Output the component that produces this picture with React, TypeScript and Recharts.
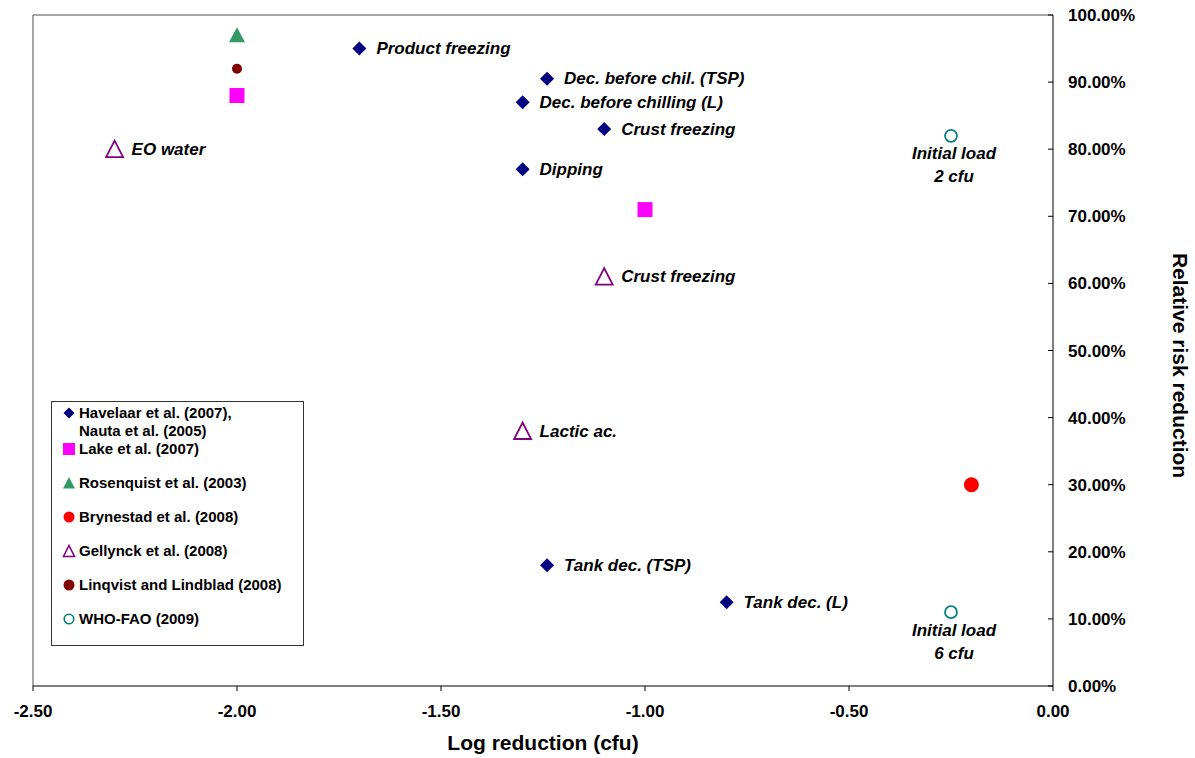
import React from "react";
import {
  ScatterChart,
  Scatter,
  XAxis,
  YAxis,
  ReferenceLine,
  Label,
} from "recharts";

// values
const havelaar = [
  { x: -1.7, y: 0.95, label: "Product freezing" },
  { x: -1.24, y: 0.905, label: "Dec. before chil. (TSP)" },
  { x: -1.3, y: 0.87, label: "Dec. before chilling (L)" },
  { x: -1.1, y: 0.83, label: "Crust freezing" },
  { x: -1.3, y: 0.77, label: "Dipping" },
  { x: -1.24, y: 0.18, label: "Tank dec. (TSP)" },
  { x: -0.8, y: 0.125, label: "Tank dec. (L)" },
];
const lake = [
  { x: -2.0, y: 0.88 },
  { x: -1.0, y: 0.71 },
];
const rosenquist = [{ x: -2.0, y: 0.97 }];
const brynestad = [{ x: -0.2, y: 0.3 }];
const gellynck = [
  { x: -2.3, y: 0.8, label: "EO water" },
  { x: -1.1, y: 0.61, label: "Crust freezing" },
  { x: -1.3, y: 0.38, label: "Lactic ac." },
];
const linqvist = [{ x: -2.0, y: 0.92 }];
const whoFao = [
  { x: -0.25, y: 0.82, label: "Initial load", sub: "2 cfu" },
  { x: -0.25, y: 0.11, label: "Initial load", sub: "6 cfu" },
];

const xTicks = [-2.5, -2.0, -1.5, -1.0, -0.5, 0];
const yTicks = [0, 0.1, 0.2, 0.3, 0.4, 0.5, 0.6, 0.7, 0.8, 0.9, 1.0];

const legendItems = [
  { name: ["Havelaar et al. (2007),", "Nauta et al. (2005)"], kind: "diamond" },
  { name: ["Lake et al. (2007)"], kind: "square" },
  { name: ["Rosenquist et al. (2003)"], kind: "triangle" },
  { name: ["Brynestad et al. (2008)"], kind: "redDot" },
  { name: ["Gellynck et al. (2008)"], kind: "openTriangle" },
  { name: ["Linqvist and Lindblad (2008)"], kind: "brownDot" },
  { name: ["WHO-FAO (2009)"], kind: "openCircle" },
];

const FONT = '"Liberation Sans", Arial, sans-serif';
const NAVY = "#000080";
const MAGENTA = "#FF00FF";
const GREEN = "#339966";
const RED = "#FF0000";
const PURPLE = "#800080";
const BROWN = "#800000";
const TEAL = "#008080";

const labelStyle = {
  fontFamily: FONT,
  fontSize: 17,
  fontWeight: "bold" as const,
  fontStyle: "italic" as const,
  fill: "#000",
};

function sideLabel(cx: number, cy: number, text?: string) {
  if (!text) return null;
  return (
    <text x={cx + 17} y={cy} dominantBaseline="central" style={labelStyle}>
      {text}
    </text>
  );
}

function Diamond(p: any) {
  const { cx, cy, payload } = p;
  const s = 7;
  return (
    <g>
      <path d={`M${cx},${cy - s}L${cx + s},${cy}L${cx},${cy + s}L${cx - s},${cy}Z`} fill={NAVY} />
      {sideLabel(cx, cy, payload?.label)}
    </g>
  );
}

function Square(p: any) {
  const { cx, cy } = p;
  return <rect x={cx - 7.5} y={cy - 7.5} width={15} height={15} fill={MAGENTA} />;
}

function FilledTriangle(p: any) {
  const { cx, cy } = p;
  return <path d={`M${cx},${cy - 8}L${cx + 8},${cy + 7}L${cx - 8},${cy + 7}Z`} fill={GREEN} />;
}

function RedDot(p: any) {
  return <circle cx={p.cx} cy={p.cy} r={7.5} fill={RED} />;
}

function BrownDot(p: any) {
  return <circle cx={p.cx} cy={p.cy} r={5} fill={BROWN} />;
}

function OpenTriangle(p: any) {
  const { cx, cy, payload } = p;
  return (
    <g>
      <path
        d={`M${cx},${cy - 8.5}L${cx + 8.5},${cy + 8}L${cx - 8.5},${cy + 8}Z`}
        fill="#fff"
        stroke={PURPLE}
        strokeWidth={1.8}
      />
      {sideLabel(cx, cy, payload?.label)}
    </g>
  );
}

function OpenCircle(p: any) {
  const { cx, cy, payload } = p;
  return (
    <g>
      <circle cx={cx} cy={cy} r={6} fill="#fff" stroke={TEAL} strokeWidth={1.8} />
      <text x={cx + 3} y={cy + 18} textAnchor="middle" dominantBaseline="central" style={labelStyle}>
        {payload?.label}
      </text>
      <text x={cx + 3} y={cy + 41} textAnchor="middle" dominantBaseline="central" style={labelStyle}>
        {payload?.sub}
      </text>
    </g>
  );
}

function LegendMarker({ kind }: { kind: string }) {
  const c = 7;
  const m = 10;
  let el: React.ReactNode = null;
  if (kind === "diamond")
    el = <path d={`M${c},${m - 5.5}L${c + 5.5},${m}L${c},${m + 5.5}L${c - 5.5},${m}Z`} fill={NAVY} />;
  if (kind === "square") el = <rect x={c - 6} y={m - 6} width={12} height={12} fill={MAGENTA} />;
  if (kind === "triangle")
    el = <path d={`M${c},${m - 6}L${c + 6},${m + 5.5}L${c - 6},${m + 5.5}Z`} fill={GREEN} />;
  if (kind === "redDot") el = <circle cx={c} cy={m} r={5.5} fill={RED} />;
  if (kind === "openTriangle")
    el = (
      <path
        d={`M${c},${m - 5.5}L${c + 5.5},${m + 5.5}L${c - 5.5},${m + 5.5}Z`}
        fill="none"
        stroke={PURPLE}
        strokeWidth={1.6}
      />
    );
  if (kind === "brownDot") el = <circle cx={c} cy={m} r={5.5} fill={BROWN} />;
  if (kind === "openCircle")
    el = <circle cx={c} cy={m} r={4.8} fill="none" stroke={TEAL} strokeWidth={1.6} />;
  return (
    <svg width={14} height={20} style={{ flex: "none", display: "block" }}>
      {el}
    </svg>
  );
}

function YTitle(props: any) {
  const { x, y, height } = props.viewBox;
  const cx = x + 127;
  const cy = y + height / 2 + 15;
  return (
    <text
      x={cx}
      y={cy}
      transform={`rotate(90, ${cx}, ${cy})`}
      textAnchor="middle"
      dominantBaseline="central"
      style={{ fontFamily: FONT, fontSize: 21, fontWeight: "bold", fill: "#000" }}
    >
      Relative risk reduction
    </text>
  );
}

export default function App() {
  const tickStyle = { fontFamily: FONT, fontSize: 17, fontWeight: "bold", fill: "#000" };
  return (
    <div style={{ position: "absolute", left: 0, top: 0, width: 1195, height: 758, background: "#fff" }}>
      <ScatterChart width={1195} height={758} margin={{ top: 15, left: 33, right: 42, bottom: 32 }}>
        <XAxis
          type="number"
          dataKey="x"
          domain={[-2.5, 0]}
          ticks={xTicks}
          tickFormatter={(v: number) => v.toFixed(2)}
          height={40}
          tickSize={5}
          tickMargin={14}
          stroke="#000"
          tick={tickStyle}
          allowDataOverflow
        >
          <Label
            value="Log reduction (cfu)"
            position="bottom"
            offset={9}
            style={{ fontFamily: FONT, fontSize: 21, fontWeight: "bold", fill: "#000" }}
          />
        </XAxis>
        <YAxis
          type="number"
          dataKey="y"
          orientation="right"
          domain={[0, 1]}
          ticks={yTicks}
          tickFormatter={(v: number) => (v * 100).toFixed(2) + "%"}
          width={100}
          tickSize={-5}
          tickMargin={20}
          stroke="#000"
          tick={tickStyle}
          allowDataOverflow
        >
          <Label content={YTitle} />
        </YAxis>
        <ReferenceLine x={-2.5} stroke="#888" strokeWidth={1.5} />
        <ReferenceLine y={1} stroke="#888" strokeWidth={1.5} />
        <Scatter data={havelaar} shape={Diamond} isAnimationActive={false} />
        <Scatter data={lake} shape={Square} isAnimationActive={false} />
        <Scatter data={rosenquist} shape={FilledTriangle} isAnimationActive={false} />
        <Scatter data={brynestad} shape={RedDot} isAnimationActive={false} />
        <Scatter data={gellynck} shape={OpenTriangle} isAnimationActive={false} />
        <Scatter data={linqvist} shape={BrownDot} isAnimationActive={false} />
        <Scatter data={whoFao} shape={OpenCircle} isAnimationActive={false} />
      </ScatterChart>

      <div
        style={{
          position: "absolute",
          left: 51,
          top: 401,
          width: 251,
          height: 242,
          border: "1px solid #333",
          background: "#fff",
          paddingTop: 1,
          fontFamily: FONT,
          fontSize: 15,
          fontWeight: "bold",
          color: "#000",
        }}
      >
        {legendItems.map((it, i) => (
          <div
            key={i}
            style={{
              display: "flex",
              alignItems: "flex-start",
              height: i === 0 ? 36 : 34,
            }}
          >
            <div style={{ marginLeft: 10 }}>
              <LegendMarker kind={it.kind} />
            </div>
            <div style={{ marginLeft: 3, lineHeight: i === 0 ? "18px" : "20px", paddingTop: i === 0 ? 1 : 0, whiteSpace: "nowrap" }}>
              {it.name.map((line, j) => (
                <div key={j}>{line}</div>
              ))}
            </div>
          </div>
        ))}
      </div>
    </div>
  );
}
